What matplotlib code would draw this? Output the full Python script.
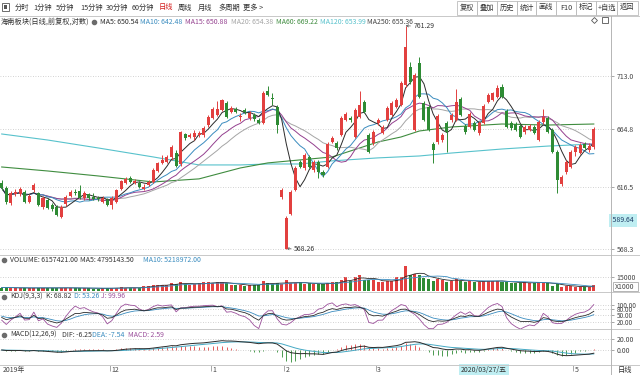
import numpy as np
import pandas as pd
import matplotlib
matplotlib.use('Agg')
import matplotlib.pyplot as plt
from matplotlib.patches import Rectangle
from matplotlib.ticker import FixedLocator, NullLocator, NullFormatter
from matplotlib.transforms import blended_transform_factory

plt.rcParams['font.family'] = ['Noto Sans CJK SC', 'DejaVu Sans']

# daily OHLC of 海南板块 (log price axis)
opens = [
    619.4, 615.4, 603.4, 610.5, 610.5, 612.1, 604.2, 613.7, 611.3, 600.2,
    605.7, 601.8, 600.2, 592.4, 602.6, 608.9, 612.1, 612.9, 607.3, 610.5,
    608.1, 607.3, 604.2, 605.7, 601.8, 604.2, 614.6, 619.4, 623.5, 619.4,
    619.4, 614.6, 617.8, 620.2, 629.2, 635.9, 636.7, 640.9, 644.2, 635.0,
    660.5, 657.9, 657.9, 659.6, 659.6, 668.3, 674.5, 677.2, 681.6, 687.9,
    679.8, 682.5, 675.4, 681.6, 674.5, 677.2, 672.7, 670.1, 698.8, 692.4,
    684.3, 608.1, 568.3, 594.7, 613.7, 636.7, 631.7, 640.9, 630.1, 636.7,
    628.4, 632.5, 653.6, 652.7, 659.6, 672.7, 674.5, 657.9, 675.4, 688.8,
    659.6, 652.7, 670.1, 661.4, 672.7, 677.2, 684.3, 686.1, 704.3, 721.2,
    664.0, 725.0, 687.9, 684.3, 651.9, 653.6, 655.3, 670.1, 672.7, 672.7,
    691.5, 667.5, 666.6, 670.1, 661.4, 670.1, 688.8, 690.6, 693.3, 702.5,
    680.7, 670.1, 669.2, 667.5, 662.2, 664.0, 666.6, 655.3, 671.0, 674.5,
    664.0, 645.1, 618.6, 628.4, 632.5, 645.1, 644.2, 651.9, 646.8, 649.3,
]
highs = [
    621.8, 617.0, 612.9, 614.6, 616.2, 613.7, 610.5, 619.4, 612.1, 608.9,
    607.3, 603.4, 601.8, 601.8, 609.7, 613.7, 614.6, 617.8, 612.9, 611.3,
    611.3, 608.9, 608.9, 607.3, 608.9, 614.6, 621.8, 624.3, 625.1, 622.7,
    621.0, 618.6, 621.8, 631.7, 636.7, 642.5, 642.5, 651.0, 646.8, 663.1,
    661.4, 661.4, 664.0, 663.1, 667.5, 677.2, 684.3, 689.7, 691.5, 689.7,
    685.2, 684.3, 678.9, 683.4, 680.7, 678.9, 674.5, 698.8, 703.4, 697.0,
    686.1, 615.4, 593.2, 613.7, 633.4, 638.4, 644.2, 642.5, 638.4, 638.4,
    630.1, 653.6, 658.8, 654.5, 676.3, 679.8, 676.3, 683.4, 698.8, 690.6,
    661.4, 664.0, 674.5, 668.3, 685.2, 689.7, 692.4, 708.0, 761.29, 725.9,
    715.6, 730.7, 689.7, 686.1, 653.6, 678.1, 661.4, 671.9, 678.9, 700.7,
    693.3, 669.2, 679.8, 671.9, 671.9, 687.0, 697.0, 697.9, 704.3, 705.3,
    682.5, 671.9, 671.0, 669.2, 668.3, 669.2, 668.3, 672.7, 682.5, 676.3,
    665.7, 646.8, 625.9, 638.4, 646.8, 651.0, 652.7, 653.6, 652.7, 666.6,
]
lows = [
    613.7, 602.6, 601.8, 608.9, 608.9, 603.4, 603.4, 612.1, 601.0, 598.6,
    598.6, 597.1, 593.2, 591.6, 601.0, 608.1, 609.7, 606.5, 605.7, 605.7,
    605.7, 605.0, 603.4, 601.0, 598.6, 603.4, 613.7, 618.6, 619.4, 618.6,
    615.4, 613.7, 617.0, 619.4, 628.4, 635.0, 635.9, 638.4, 632.5, 633.4,
    655.3, 657.0, 655.3, 657.9, 657.9, 666.6, 673.6, 676.3, 680.7, 674.5,
    678.9, 678.9, 671.9, 678.1, 672.7, 671.9, 669.2, 669.2, 694.3, 686.1,
    661.4, 606.5, 568.26, 593.9, 612.9, 631.7, 630.1, 631.7, 628.4, 623.5,
    624.3, 631.7, 652.7, 646.8, 658.8, 671.9, 671.0, 657.0, 674.5, 678.9,
    644.2, 651.0, 668.3, 660.5, 671.9, 676.3, 683.4, 685.2, 702.5, 705.3,
    663.1, 692.4, 671.9, 663.1, 635.9, 651.9, 653.6, 645.1, 671.0, 671.9,
    676.3, 660.5, 665.7, 663.1, 659.6, 669.2, 687.9, 689.7, 692.4, 692.4,
    665.7, 664.0, 663.1, 657.0, 660.5, 663.1, 660.5, 654.5, 669.2, 661.4,
    644.2, 611.3, 617.0, 626.7, 631.7, 641.7, 643.4, 647.6, 645.1, 647.6,
]
closes = [
    615.4, 604.2, 611.3, 612.1, 614.6, 604.2, 608.9, 617.8, 601.8, 607.3,
    599.4, 598.6, 593.9, 600.2, 608.1, 612.1, 611.3, 607.3, 611.3, 607.3,
    606.5, 606.5, 607.3, 601.8, 607.3, 613.7, 621.0, 622.7, 620.2, 621.0,
    616.2, 616.2, 620.2, 630.1, 635.9, 638.4, 640.9, 649.3, 633.4, 662.2,
    657.0, 659.6, 661.4, 661.4, 665.7, 675.4, 682.5, 682.5, 690.6, 675.4,
    683.4, 679.8, 676.3, 679.8, 678.9, 673.6, 670.1, 697.0, 695.2, 691.5,
    668.3, 613.7, 591.6, 612.1, 631.7, 632.5, 642.5, 632.5, 636.7, 628.4,
    625.9, 651.9, 657.0, 648.5, 674.5, 678.1, 672.7, 681.6, 686.1, 679.8,
    645.1, 662.2, 672.7, 666.6, 683.4, 687.9, 690.6, 706.2, 740.4, 707.1,
    713.7, 693.3, 672.7, 664.0, 646.8, 676.3, 659.6, 662.2, 677.2, 688.8,
    677.2, 662.2, 678.1, 664.0, 670.1, 685.2, 695.2, 697.0, 701.6, 693.3,
    666.6, 665.7, 664.0, 657.9, 666.6, 667.5, 661.4, 671.0, 675.4, 662.2,
    645.1, 621.8, 624.3, 636.7, 645.1, 649.3, 651.0, 648.5, 650.1, 664.8,
]
# volume in units of 1000
volumes = [
    3900, 4200, 3600, 3300, 3500, 3800, 3400, 3700, 3900, 3600,
    3300, 3500, 3800, 4000, 3700, 3400, 3100, 3600, 3300, 3200,
    3000, 2900, 3300, 3500, 3400, 3800, 4100, 4000, 3700, 3500,
    3600, 5700, 6000, 6400, 6800, 6400, 6100, 8900, 7800, 10000,
    7100, 7000, 7300, 8600, 9300, 9100, 8800, 9300, 9200, 8500,
    6400, 6200, 6600, 5900, 6500, 6900, 6800, 10700, 8500, 7600,
    8200, 7200, 11800, 8900, 8500, 9200, 7500, 8200, 7800, 7500,
    7500, 8500, 9200, 9200, 12100, 14300, 10700, 14300, 17100, 11800,
    11400, 11800, 10000, 9300, 11000, 10700, 14300, 14300, 25700, 17100,
    17800, 17100, 13600, 12800, 10700, 12800, 11800, 10000, 10700, 12500,
    11000, 10000, 10700, 10000, 9300, 11000, 11000, 10700, 10700, 10000,
    9300, 8900, 8500, 8900, 9300, 8500, 8900, 9600, 8900, 8200,
    6000, 7200, 5000, 5200, 5500, 4800, 4500, 4300, 5000, 6157,
]
# long averages at a few candles
ma60_idx = [0, 10, 21, 33, 43, 52, 58, 65, 72, 82, 87, 91, 98, 109, 119, 129]
ma60_val = [632.5, 629.2, 625.1, 620.2, 622.7, 631.7, 635.9, 638.4, 640.9,
            653.6, 657.9, 663.1, 666.6, 669.2, 668.3, 669.2]
ma120_idx = [0, 10, 21, 33, 43, 52, 58, 65, 72, 82, 91, 98, 109, 119, 129]
ma120_val = [660.5, 655.3, 648.5, 640.9, 634.2, 634.2, 635.0, 635.0, 637.6,
             640.1, 641.7, 644.2, 647.6, 650.1, 651.9]

month_pos = [23.5, 45.5, 61.5, 81.5, 124.5]
month_lbl = ['12', '1', '2', '3', '5']
price_ticks = [568.3, 616.5, 664.8, 713.0]

RED, GREEN = '#e2403f', '#2e8b34'
C_MA5, C_MA10, C_MA15, C_MA20 = '#2b2b2b', '#3a8cbf', '#94408f', '#a5a5a5'
C_MA60, C_MA120 = '#3f8c3f', '#58c2cc'
GRID = '#c4c4c4'
FS = 5.0      # numbers / latin text
FS_CN = 5.2   # chinese labels
W, H = 640, 375

o = np.array(opens); h = np.array(highs); l = np.array(lows); c = np.array(closes)
v = np.array(volumes, dtype=float)
idx = np.arange(len(c))
col = np.where(c >= o, RED, GREEN)
cs = pd.Series(c)


def box(x0, y0, x1, y1):
    return [x0 / W, 1 - y1 / H, (x1 - x0) / W, (y1 - y0) / H]


fig = plt.figure(figsize=(6.4, 3.75), dpi=100)
ax = fig.add_axes(box(0, 17, 611, 255))
axv = fig.add_axes(box(0, 255, 611, 292))
axk = fig.add_axes(box(0, 292, 611, 329))
axm = fig.add_axes(box(0, 329, 611, 365))
for a in (ax, axv, axk, axm):
    a.set_xlim(-0.37, 132.75)
    for s in a.spines.values():
        s.set_visible(False)
    a.tick_params(axis='x', bottom=False, labelbottom=False)
    a.yaxis.tick_right()
    a.tick_params(axis='y', length=2.5, width=0.6, color='#999', labelsize=FS,
                  labelcolor='#444', pad=1.5)

# ---- price panel
ax.set_yscale('log')
ax.set_ylim(563.5, 770.1)
ax.yaxis.set_major_locator(FixedLocator(price_ticks))
ax.yaxis.set_minor_locator(NullLocator())
ax.yaxis.set_minor_formatter(NullFormatter())
ax.set_yticklabels(['%.1f' % p for p in price_ticks])
ax.grid(axis='y', ls=(0, (1, 2)), color=GRID, lw=0.6)

ax.plot(ma120_idx, ma120_val, color=C_MA120, lw=0.8)
ax.plot(ma60_idx, ma60_val, color=C_MA60, lw=0.8)
for n, cc in ((20, C_MA20), (15, C_MA15), (10, C_MA10), (5, C_MA5)):
    ax.plot(idx, cs.rolling(n, min_periods=1).mean(), color=cc, lw=0.7)

ax.vlines(idx, l, h, colors=col, lw=0.7, zorder=3)
ax.bar(idx, np.maximum(np.abs(c - o), 0.8), bottom=np.minimum(o, c),
       width=0.66, color=col, lw=0, zorder=4)

for k, val in ((88, 761.29), (62, 568.26)):
    ax.annotate('%.2f' % val, xy=(k, val), xytext=(5.5, -0.5), textcoords='offset points',
                fontsize=FS, color='#333', va='center',
                arrowprops=dict(arrowstyle='->', lw=0.5, color='#555', mutation_scale=4,
                                shrinkA=0, shrinkB=0))
ax.text(1.0, 589.64, ' 589.64 ', transform=blended_transform_factory(ax.transAxes, ax.transData),
        fontsize=FS, color='#1d3b66', va='center', ha='left', clip_on=False,
        bbox=dict(boxstyle='square,pad=0.3', facecolor='#bfeef2', edgecolor='none'))

# ---- volume panel
axv.set_ylim(-536, 36964)
axv.bar(idx, v, width=0.66, color=col, lw=0)
axv.plot(idx, pd.Series(v).rolling(5, min_periods=1).mean(), color=C_MA5, lw=0.6)
axv.plot(idx, pd.Series(v).rolling(10, min_periods=1).mean(), color=C_MA10, lw=0.6)
axv.set_yticks([15000])
axv.set_yticklabels(['15000'])
axv.grid(axis='y', ls=(0, (1, 2)), color=GRID, lw=0.6)

# ---- KDJ(9,3,3)
llv = pd.Series(l).rolling(9, min_periods=1).min()
hhv = pd.Series(h).rolling(9, min_periods=1).max()
rsv = ((cs - llv) / (hhv - llv) * 100).fillna(50).values
K = np.zeros(len(c)); D = np.zeros(len(c))
kp, dp = 50.0, 50.0
for i in range(len(c)):
    kp = 2 / 3 * kp + rsv[i] / 3
    dp = 2 / 3 * dp + kp / 3
    K[i], D[i] = kp, dp
J = 3 * K - 2 * D
axk.set_ylim(-14.85, 162.4)
axk.plot(idx, J, color='#9b4f9b', lw=0.6)
axk.plot(idx, D, color='#3a8cbf', lw=0.6)
axk.plot(idx, K, color='#2b2b2b', lw=0.6)
axk.set_yticks([20, 50, 80, 100])
axk.set_yticklabels(['20.00', '50.00', '80.00', '100.00'])
axk.tick_params(axis='y', labelsize=4.6)
axk.grid(axis='y', ls=(0, (1, 2)), color=GRID, lw=0.6)

# ---- MACD(12,26,9)
dif = cs.ewm(span=12, adjust=False).mean() - cs.ewm(span=26, adjust=False).mean()
dea = dif.ewm(span=9, adjust=False).mean()
hist = 2 * (dif - dea)
axm.set_ylim(-28, 39.25)
axm.vlines(idx, 0, hist, colors=np.where(hist >= 0, RED, GREEN), lw=0.6)
axm.plot(idx, dea, color='#45a9c4', lw=0.7)
axm.plot(idx, dif, color='#2b2b2b', lw=0.7)
axm.set_yticks([0, 20])
axm.set_yticklabels(['0.00', '20.00'])
axm.grid(axis='y', ls=(0, (1, 2)), color=GRID, lw=0.6)

# date axis under the MACD panel
axm.tick_params(axis='x', bottom=True, direction='out', length=4.5, width=0.6,
                color='#999')
axm.set_xticks(month_pos)
tb = blended_transform_factory(axm.transData, axm.transAxes)
for p, s in zip(month_pos, month_lbl):
    axm.text(p + 0.3, -0.14, s, transform=tb, fontsize=FS, color='#444', va='center')
axm.text(0.004, -0.14, '2019年', transform=axm.transAxes, fontsize=FS, color='#444',
         va='center')
axm.text(100, -0.14, '2020/03/27/五', transform=tb, fontsize=FS, color='#333',
         va='center', bbox=dict(boxstyle='square,pad=0.3', facecolor='#bfeef2',
                                edgecolor='none'))

# ---- overlay in pixel units: toolbar, legends, separators
ov = fig.add_axes([0, 0, 1, 1])
ov.set_xlim(0, W)
ov.set_ylim(H, 0)
ov.axis('off')


def t(x, y, s, color='#333', size=FS, **kw):
    ov.text(x, y, s, color=color, fontsize=size, va='center', ha='left', **kw)


for y in (15.5, 255, 292, 329, 365):
    ov.plot([0, W], [y, y], color='#c8c8c8', lw=0.7)
ov.plot([611, 611], [15.5, H], color='#b5b5b5', lw=0.7)

ov.add_patch(Rectangle((2, 3), 7, 8, fill=False, lw=0.6, ec='#555'))
ov.add_patch(Rectangle((4, 5), 3, 4, color='#555', lw=0))
tools = [(15, '分时'), (33, '1分钟'), (56, '5分钟'), (80, '15分钟'), (106, '30分钟'),
         (132, '60分钟'), (159, '日线'), (178, '周线'), (198, '月线'), (218, '多周期'),
         (243, '更多 >')]
for x, s in tools:
    t(x, 7.5, s, color='#d42020' if s == '日线' else '#333', size=FS_CN)
edges = [457, 477, 497, 517, 536, 556, 576, 596, 617, 638]
names = ['复权', '叠加', '历史', '统计', '画线', 'F10', '标记', '+自选', '返回']
for x0, x1, s in zip(edges[:-1], edges[1:], names):
    ov.add_patch(Rectangle((x0, 1), x1 - x0, 13.5, fill=False, lw=0.6, ec='#bdbdbd'))
    ov.text((x0 + x1) / 2, 7.5, s, fontsize=FS_CN, color='#333', ha='center', va='center')

t(1, 22, '海南板块(日线,前复权,对数)', size=FS_CN)
ov.plot([94], [22], 'o', ms=3.0, color='#6b6b6b')
legend = [(100, 'MA5: 650.54', C_MA5), (140, 'MA10: 642.48', C_MA10),
          (185, 'MA15: 650.88', C_MA15), (231, 'MA20: 654.38', C_MA20),
          (276, 'MA60: 669.22', C_MA60), (320, 'MA120: 653.99', C_MA120),
          (367, 'MA250: 655.36', '#444')]
for x, s, cc in legend:
    t(x, 22, s, color=cc)
ov.plot([594], [20], 'D', ms=3, mfc='none', mec='#555', mew=0.6)
ov.add_patch(Rectangle((602, 17), 6, 6, fill=False, lw=0.6, ec='#555'))

ov.plot([4], [260], 'o', ms=3.0, color='#6b6b6b')
t(10, 260, 'VOLUME: 6157421.00')
t(80, 260, 'MA5: 4795143.50')
t(143, 260, 'MA10: 5218972.00', color=C_MA10)
ov.add_patch(Rectangle((613, 282), 25, 9, fill=False, lw=0.6, ec='#aaa'))
t(615, 286.8, 'X1000', color='#444')

ov.plot([4], [296.5], 'o', ms=3.0, color='#6b6b6b')
t(10, 296.5, 'KDJ(9,3,3)')
t(46, 296.5, 'K: 68.82')
t(74, 296.5, 'D: 53.26', color=C_MA10)
t(101, 296.5, 'J: 99.96', color='#9b4f9b')

ov.plot([4], [335], 'o', ms=3.0, color='#6b6b6b')
t(10, 335, 'MACD(12,26,9)')
t(62, 335, 'DIF: -6.25')
t(92, 335, 'DEA: -7.54', color=C_MA10)
t(128, 335, 'MACD: 2.59', color='#9b4f9b')

t(618, 370, '日线', size=FS_CN)

fig.savefig('out.png', dpi=100)
